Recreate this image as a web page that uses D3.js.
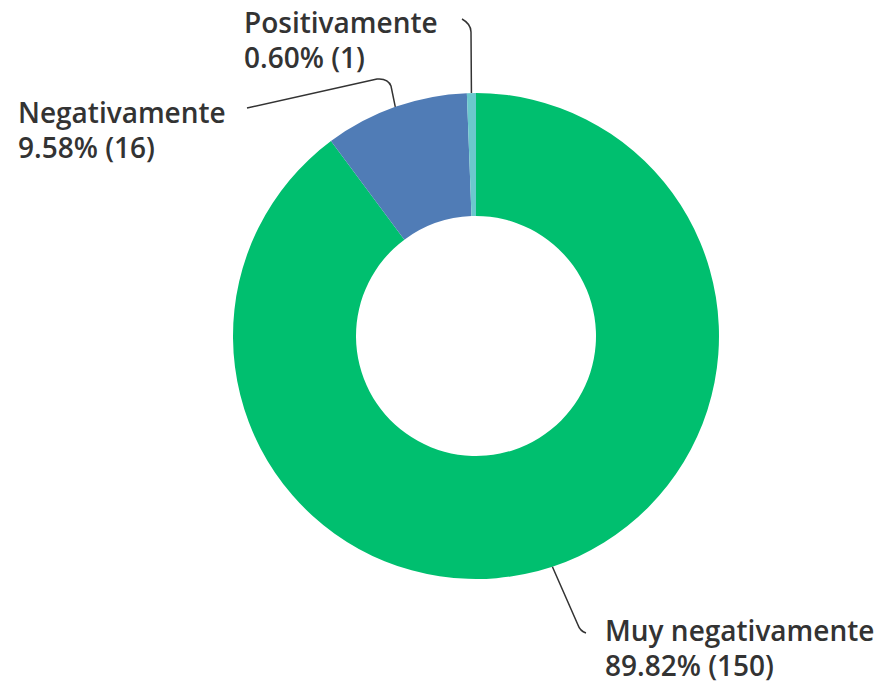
<!DOCTYPE html>
<html>
<head>
<meta charset="utf-8">
<script src="https://cdn.jsdelivr.net/npm/d3@7"></script>
<style>
  body { margin: 0; background: #fff; }
  svg text { font-family: "Open Sans", sans-serif; font-weight: 600; fill: #333; }
</style>
</head>
<body>
<svg id="chart" width="880" height="684"></svg>
<script>
const categories = ['Muy negativamente', 'Negativamente', 'Positivamente'];
const counts = [150, 16, 1];
const percents = ['89.82%', '9.58%', '0.60%'];
const colors = ['#00bf6f', '#507cb6', '#6bc8cd'];

// label anchor (x, first baseline) and elbow of the leader line for each slice
const labelPos = [
  { x: 605, y: 641, bend: [578, 625], end: [586, 633] },
  { x: 18, y: 123, bend: [385, 78], end: [247, 108] },
  { x: 244, y: 33, bend: [471, 24], end: [462, 19] }
];

const width = 880, height = 684;
const cx = 476, cy = 336, outerR = 243, innerR = 120;

const svg = d3.select('#chart');
const g = svg.append('g').attr('transform', `translate(${cx},${cy})`);

const pie = d3.pie().sort(null).value(d => d);
const arcs = pie(counts);
const arc = d3.arc().innerRadius(innerR).outerRadius(outerR);

g.selectAll('path.slice')
  .data(arcs)
  .join('path')
  .attr('class', 'slice')
  .attr('d', arc)
  .attr('fill', (d, i) => colors[i]);

// leader lines, starting at the outer edge of each slice's middle
arcs.forEach((d, i) => {
  const a = (d.startAngle + d.endAngle) / 2;
  const sx = cx + outerR * Math.sin(a);
  const sy = cy - outerR * Math.cos(a);
  const p = labelPos[i];
  const path = d3.path();
  path.moveTo(sx, sy);
  if (i === 1) {
    path.lineTo(p.bend[0] + 6, p.bend[1] + 8);
    path.quadraticCurveTo(p.bend[0] + 3, p.bend[1], p.bend[0] - 8, p.bend[1] + 1);
    path.lineTo(p.end[0], p.end[1]);
  } else if (i === 2) {
    path.lineTo(p.bend[0], p.bend[1] + 8);
    path.quadraticCurveTo(p.bend[0], p.bend[1], p.end[0], p.end[1]);
  } else {
    path.lineTo(p.bend[0], p.bend[1]);
    path.quadraticCurveTo(p.bend[0] + 2, p.bend[1] + 6, p.end[0], p.end[1]);
  }
  svg.append('path')
    .attr('d', path.toString())
    .attr('fill', 'none')
    .attr('stroke', '#333')
    .attr('stroke-width', 1.5);
});

// labels
labelPos.forEach((p, i) => {
  const t = svg.append('text').attr('x', p.x).attr('y', p.y).style('font-size', '28px');
  t.append('tspan').attr('x', p.x).text(categories[i]);
  t.append('tspan').attr('x', p.x).attr('dy', 35).text(`${percents[i]} (${counts[i]})`);
});
</script>
</body>
</html>
